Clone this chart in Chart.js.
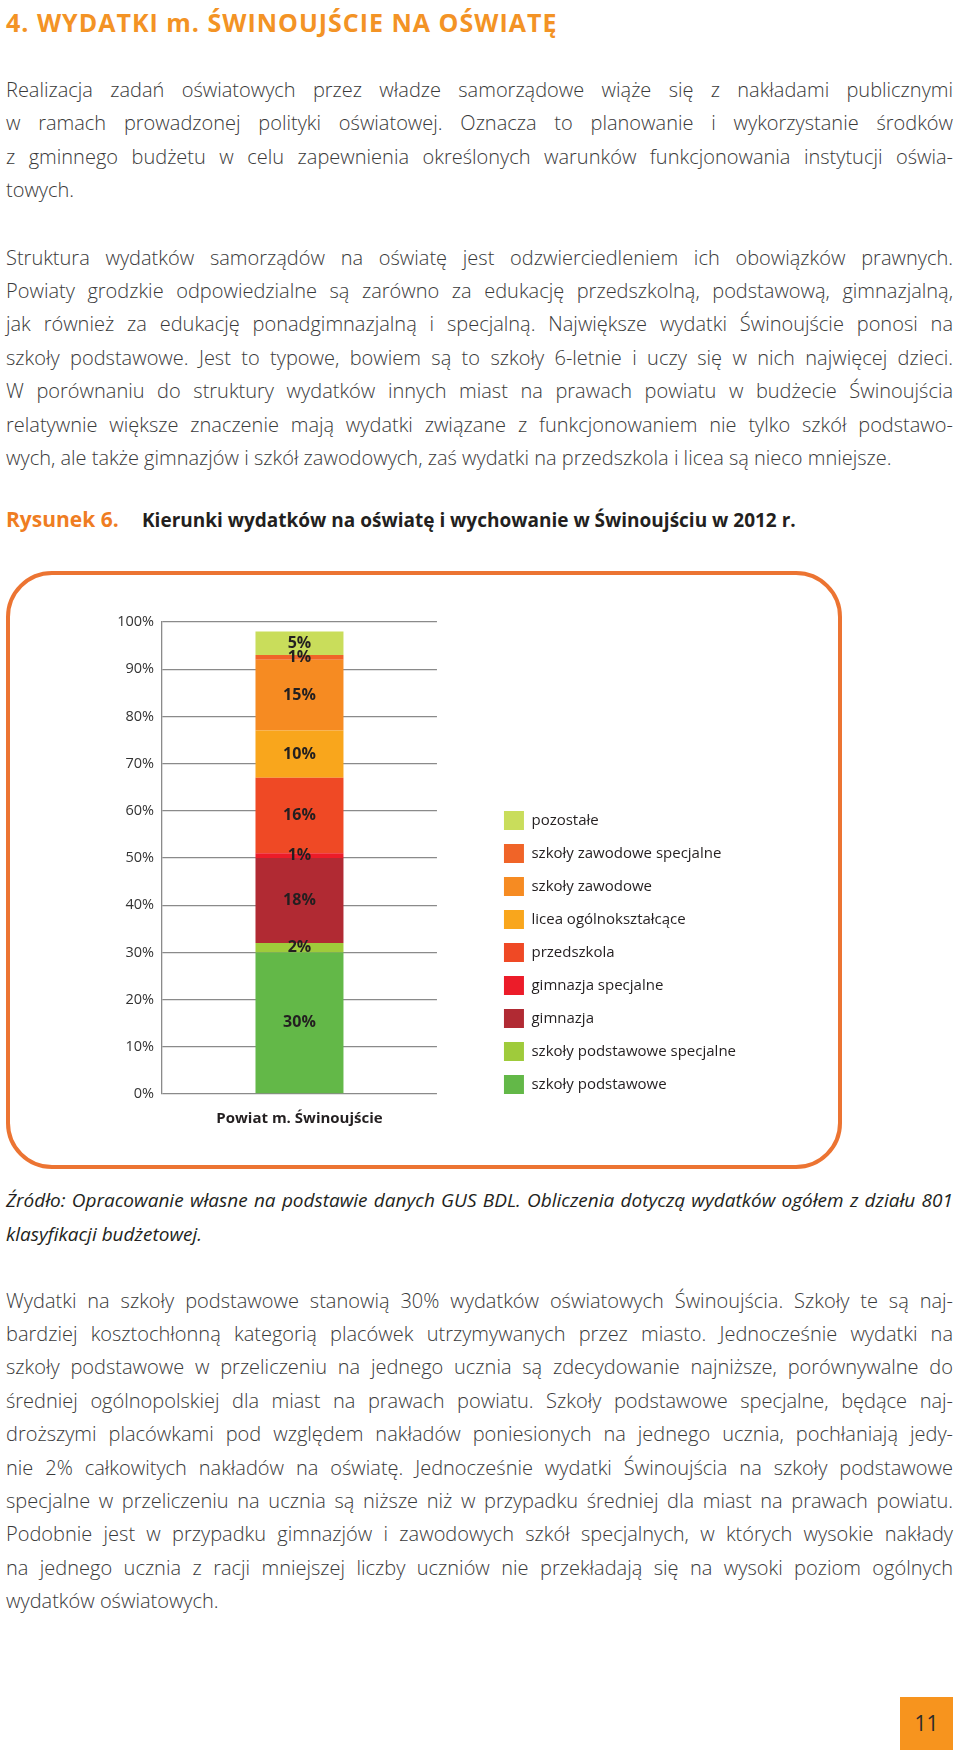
<!DOCTYPE html>
<html lang="pl">
<head>
<meta charset="utf-8">
<title>Wydatki m. Świnoujście na oświatę</title>
<script src="https://cdn.jsdelivr.net/npm/chart.js@4.4.1/dist/chart.umd.min.js"></script>
<style>
    html, body { margin: 0; padding: 0; background: #fff; }
    body { width: 960px; height: 1755px; position: relative; overflow: hidden; font-family: "Open Sans", sans-serif; color: #3a3a3a; }
    .abs { position: absolute; }
    .txt { left: 6px; width: 947px; font-size: 20px; font-weight: 300; line-height: 33.4px; }
    .txt div { white-space: nowrap; text-align: justify; text-align-last: justify; }
    .txt div.end { text-align-last: left; }
    #title { left: 6px; top: 7px; font-size: 25px; line-height: 30px; font-weight: 700; color: #f39325; letter-spacing: 1px; white-space: nowrap; }
    #caption { left: 6px; top: 504px; line-height: 30px; font-weight: 700; white-space: nowrap; }
    #caption .nr { display: inline-block; width: 136px; font-size: 21px; color: #ef7d22; }
    #caption .name { font-size: 19px; color: #231f20; }
    #source { top: 1183px; font-size: 19px; font-style: italic; font-weight: 400; line-height: 34px; color: #231f20; }
    #frame { left: 5.5px; top: 570.5px; width: 836.5px; height: 598.5px; box-sizing: border-box; border: 4px solid #ec7432; border-radius: 46px; }
    #chart { left: 0; top: 571px; }
    #page { left: 900px; top: 1697px; width: 53px; height: 53px; background: #f7941e; color: #2b2b2b; font-size: 21px; line-height: 53px; text-align: center; }
</style>
</head>
<body>

<div id="title" class="abs">4. WYDATKI m. ŚWINOUJŚCIE NA OŚWIATĘ</div>

<div class="abs txt" style="top:73px">
    <div>Realizacja zadań oświatowych przez władze samorządowe wiąże się z nakładami publicznymi</div>
    <div>w ramach prowadzonej polityki oświatowej. Oznacza to planowanie i wykorzystanie środków</div>
    <div>z gminnego budżetu w celu zapewnienia określonych warunków funkcjonowania instytucji oświa-</div>
    <div class="end">towych.</div>
</div>

<div class="abs txt" style="top:240.5px">
    <div>Struktura wydatków samorządów na oświatę jest odzwierciedleniem ich obowiązków prawnych.</div>
    <div>Powiaty grodzkie odpowiedzialne są zarówno za edukację przedszkolną, podstawową, gimnazjalną,</div>
    <div>jak również za edukację ponadgimnazjalną i specjalną. Największe wydatki Świnoujście ponosi na</div>
    <div>szkoły podstawowe. Jest to typowe, bowiem są to szkoły 6-letnie i uczy się w nich najwięcej dzieci.</div>
    <div>W porównaniu do struktury wydatków innych miast na prawach powiatu w budżecie Świnoujścia</div>
    <div>relatywnie większe znaczenie mają wydatki związane z funkcjonowaniem nie tylko szkół podstawo-</div>
    <div class="end">wych, ale także gimnazjów i szkół zawodowych, zaś wydatki na przedszkola i licea są nieco mniejsze.</div>
</div>

<div id="caption" class="abs"><span class="nr">Rysunek 6.</span><span class="name">Kierunki wydatków na oświatę i wychowanie w Świnoujściu w 2012 r.</span></div>

<div id="frame" class="abs"></div>
<canvas id="chart" class="abs" width="840" height="596"></canvas>

<div id="source" class="abs txt">
    <div>Źródło: Opracowanie własne na podstawie danych GUS BDL. Obliczenia dotyczą wydatków ogółem z działu 801</div>
    <div class="end">klasyfikacji budżetowej.</div>
</div>

<div class="abs txt" style="top:1283.5px">
    <div>Wydatki na szkoły podstawowe stanowią 30% wydatków oświatowych Świnoujścia. Szkoły te są naj-</div>
    <div>bardziej kosztochłonną kategorią placówek utrzymywanych przez miasto. Jednocześnie wydatki na</div>
    <div>szkoły podstawowe w przeliczeniu na jednego ucznia są zdecydowanie najniższe, porównywalne do</div>
    <div>średniej ogólnopolskiej dla miast na prawach powiatu. Szkoły podstawowe specjalne, będące naj-</div>
    <div>droższymi placówkami pod względem nakładów poniesionych na jednego ucznia, pochłaniają jedy-</div>
    <div>nie 2% całkowitych nakładów na oświatę. Jednocześnie wydatki Świnoujścia na szkoły podstawowe</div>
    <div>specjalne w przeliczeniu na ucznia są niższe niż w przypadku średniej dla miast na prawach powiatu.</div>
    <div>Podobnie jest w przypadku gimnazjów i zawodowych szkół specjalnych, w których wysokie nakłady</div>
    <div>na jednego ucznia z racji mniejszej liczby uczniów nie przekładają się na wysoki poziom ogólnych</div>
    <div class="end">wydatków oświatowych.</div>
</div>

<div id="page" class="abs">11</div>

<script>
// dane z rysunku (udział w wydatkach, %), od dołu słupka
const categories = ["Powiat m. Świnoujście"];
const seriesNames = [
    "szkoły podstawowe",
    "szkoły podstawowe specjalne",
    "gimnazja",
    "gimnazja specjalne",
    "przedszkola",
    "licea ogólnokształcące",
    "szkoły zawodowe",
    "szkoły zawodowe specjalne",
    "pozostałe"
];
const seriesValues = [30, 2, 18, 1, 16, 10, 15, 1, 5];
const seriesColors = ["#63b848", "#9fcb3b", "#b12a33", "#ec1c29", "#ef4925", "#f9a61c", "#f68b22", "#f06428", "#c9dd5b"];
const yTicks = [0, 10, 20, 30, 40, 50, 60, 70, 80, 90, 100];

// justowane linie nie mogą wyjść poza kolumnę
document.querySelectorAll(".txt div").forEach(function (line) {
    let ls = 0;
    while (line.scrollWidth > line.clientWidth + 0.5 && ls > -1) {
        ls -= 0.05;
        line.style.letterSpacing = ls + "px";
    }
});

Chart.defaults.font.family = "'Open Sans', sans-serif";

const datasets = seriesNames.map((name, i) => ({
    label: name,
    data: [seriesValues[i]],
    backgroundColor: seriesColors[i],
    borderWidth: 0
}));

// etykiety procentowe na środku każdego segmentu
const barLabels = {
    id: "barLabels",
    afterDatasetsDraw(chart) {
        const ctx = chart.ctx;
        ctx.save();
        ctx.font = "bold 16px 'Open Sans', sans-serif";
        ctx.fillStyle = "#231f20";
        ctx.textAlign = "center";
        ctx.textBaseline = "middle";
        chart.data.datasets.forEach((ds, i) => {
            chart.getDatasetMeta(i).data.forEach((bar, j) => {
                ctx.fillText(ds.data[j] + "%", bar.x, (bar.y + bar.base) / 2);
            });
        });
        ctx.restore();
    }
};

// legenda w oryginale schodzi trochę poniżej linii 0%
const legendOffset = {
    id: "legendOffset",
    afterLayout(chart) {
        chart.legend.top += 14;
        chart.legend.bottom += 14;
    }
};

new Chart(document.getElementById("chart"), {
    type: "bar",
    data: {
        labels: categories,
        datasets: datasets
    },
    options: {
        responsive: false,
        animation: false,
        layout: {
            padding: { left: 102, right: 94, top: 51, bottom: 23 }
        },
        datasets: {
            bar: { barPercentage: 0.32, categoryPercentage: 1 }
        },
        plugins: {
            legend: {
                position: "right",
                align: "end",
                fullSize: false,
                reverse: true,
                maxWidth: 320,
                labels: {
                    boxWidth: 20,
                    boxHeight: 19,
                    padding: 14,
                    color: "#231f20",
                    font: { size: 15 }
                }
            },
            tooltip: { enabled: false }
        },
        scales: {
            x: {
                stacked: true,
                grid: { display: false, drawTicks: false },
                border: { display: false },
                ticks: {
                    autoSkip: false,
                    maxRotation: 0,
                    padding: 16,
                    color: "#231f20",
                    font: { size: 15, weight: "bold" }
                }
            },
            y: {
                stacked: true,
                min: 0,
                max: 100,
                grid: { color: "#8a8a8a", lineWidth: 1.3, drawTicks: false },
                border: { color: "#8a8a8a", width: 1.3 },
                ticks: {
                    padding: 8,
                    color: "#333",
                    font: { size: 14.5 },
                    callback: value => value + "%"
                },
                afterBuildTicks: scale => { scale.ticks = yTicks.map(v => ({ value: v })); },
                afterFit: scale => { scale.width = 60; }
            },
            gap: {
                type: "linear",
                position: "right",
                grid: { display: false },
                border: { display: false },
                ticks: { display: false },
                afterFit: scale => { scale.width = 53; }
            }
        }
    },
    plugins: [barLabels, legendOffset]
});
</script>
</body>
</html>
